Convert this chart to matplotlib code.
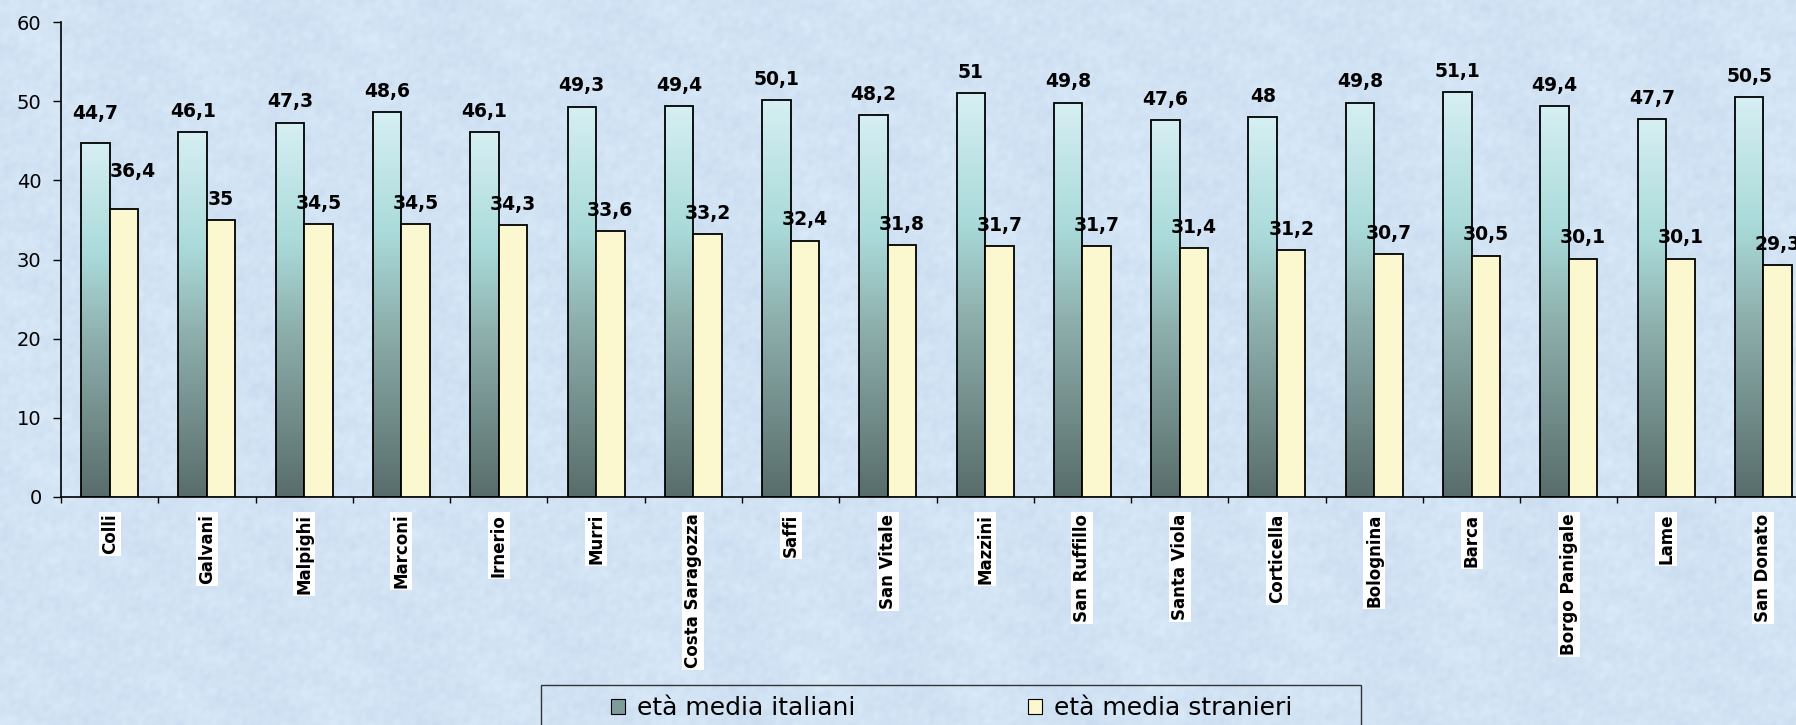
import numpy as np
import matplotlib.pyplot as plt
from matplotlib.colors import LinearSegmentedColormap
from matplotlib.patches import Patch, Rectangle

quartieri = ['Colli', 'Galvani', 'Malpighi', 'Marconi', 'Irnerio', 'Murri',
             'Costa Saragozza', 'Saffi', 'San Vitale', 'Mazzini', 'San Ruffillo',
             'Santa Viola', 'Corticella', 'Bolognina', 'Barca', 'Borgo Panigale',
             'Lame', 'San Donato']
italiani = [44.7, 46.1, 47.3, 48.6, 46.1, 49.3, 49.4, 50.1, 48.2, 51,
            49.8, 47.6, 48, 49.8, 51.1, 49.4, 47.7, 50.5]
stranieri = [36.4, 35, 34.5, 34.5, 34.3, 33.6, 33.2, 32.4, 31.8, 31.7,
             31.7, 31.4, 31.2, 30.7, 30.5, 30.1, 30.1, 29.3]
serie = ['età media italiani', 'età media stranieri']
yticks = [0, 10, 20, 30, 40, 50, 60]

W, H = 1796, 725
fig = plt.figure(figsize=(W / 100, H / 100), dpi=100)

# textured light blue background (decoration only)
bg = fig.add_axes([0, 0, 1, 1], zorder=0)
yy, xx = np.mgrid[0:H, 0:W].astype(float)
tex = np.zeros_like(xx)
for k in range(18):
    ang = k * 2.39996
    f = 0.04 + 0.09 * (k % 9)
    tex += np.sin(f * (np.cos(ang) * xx + np.sin(ang) * yy) + k * 1.7) / (1 + 0.15 * (k % 9))
tex = tex / np.abs(tex).max()
base = np.array([210, 227, 244]) / 255.0
img = base[None, None, :] + tex[..., None] * np.array([0.04, 0.035, 0.022])
bg.imshow(np.clip(img, 0, 1), extent=[0, 1, 0, 1], aspect='auto',
          interpolation='bilinear')
bg.axis('off')

ax = fig.add_axes([61 / W, 1 - 497 / H, 1751 / W, 475 / H], zorder=1)
ax.set_facecolor('none')

grad = LinearSegmentedColormap.from_list(
    'ital', [(0.0, '#586D6B'), (0.45, '#8EB0AD'), (0.68, '#A9DAD9'), (1.0, '#D6EFF3')])
yellow = '#FBF7CF'
w = 0.293
x = np.arange(len(quartieri))

ramp = np.linspace(0, 1, 256).reshape(-1, 1)
for xi, v in zip(x, italiani):
    ax.imshow(ramp, origin='lower', extent=[xi - w, xi, 0, v], aspect='auto',
              cmap=grad, zorder=2, interpolation='bilinear')
ax.bar(x - w / 2, italiani, w, facecolor='none', edgecolor='black', linewidth=1.3, zorder=3)
ax.bar(x + w / 2, stranieri, w, facecolor=yellow, edgecolor='black', linewidth=1.3, zorder=3)


def fmt(v):
    return f'{v:g}'.replace('.', ',')


nudge_it = {0: 6.5}
nudge_st = {0: (6.5, 12)}
for i, (a, b) in enumerate(zip(italiani, stranieri)):
    ax.annotate(fmt(a), (i - w / 2, a), xytext=(0, 11 + nudge_it.get(i, 0)),
                textcoords='offset points', ha='center', va='baseline',
                fontsize=13.5, fontweight='bold', zorder=4, annotation_clip=False)
    dx, dy = nudge_st.get(i, (0, 0))
    ax.annotate(fmt(b), (i + w / 2, b), xytext=(dx, 11 + dy),
                textcoords='offset points', ha='center', va='baseline',
                fontsize=13.5, fontweight='bold', zorder=4, annotation_clip=False)

ax.set_xlim(-0.5, len(quartieri) - 0.5)
ax.set_ylim(0, 60)
ax.set_yticks(yticks)
ax.tick_params(axis='y', labelsize=14, length=6, width=1, pad=8)

ax.set_xticks(x)
ax.set_xticklabels(quartieri, rotation=90, fontsize=12, fontweight='bold', va='top',
                   bbox=dict(facecolor='white', edgecolor='none', pad=1.5))
ax.set_xticks(np.arange(-0.5, len(quartieri), 1), minor=True)
ax.tick_params(axis='x', which='major', length=0, pad=12)
ax.tick_params(axis='x', which='minor', length=4, width=1)

for s in ['top', 'right']:
    ax.spines[s].set_visible(False)
for s in ['left', 'bottom']:
    ax.spines[s].set_linewidth(1.2)

handles = [Patch(facecolor='#7E9C9A', edgecolor='black', linewidth=0.8),
           Patch(facecolor=yellow, edgecolor='black', linewidth=0.8)]
fig.legend(handles, serie, loc='center', bbox_to_anchor=(952 / W, 1 - 708 / H),
           ncol=2, frameon=False, fontsize=18, handlelength=0.55, handleheight=0.55,
           handletextpad=0.5, columnspacing=6.9)
fig.patches.append(Rectangle((541 / W, -0.05), (1361 - 541) / W, 0.05 + 1 - 685 / H,
                             transform=fig.transFigure, fill=False,
                             edgecolor='#333333', linewidth=1, zorder=5))

fig.savefig('out.png', dpi=100)
